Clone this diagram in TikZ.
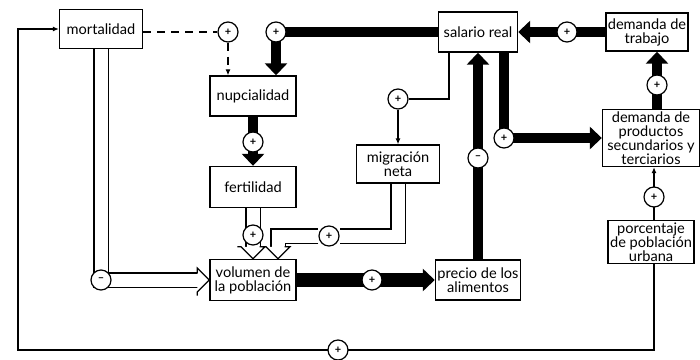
\documentclass[tikz,border=0pt]{standalone}
\usepackage{fontspec}
\setmainfont{Lato}
\usetikzlibrary{arrows.meta,positioning,calc,backgrounds,decorations.markings}
\newcommand{\boxfont}{\fontsize{7.3}{7}\selectfont}
\tikzset{
  box/.style={draw,line width=.7pt,fill=white,inner sep=1pt,align=center,
              font=\boxfont},
  sign/.style={circle,draw,line width=.6pt,fill=white,minimum size=10pt,
               inner sep=0pt,font=\fontsize{5.5}{5.5}\selectfont\bfseries},
  thin link/.style={draw,line width=.7pt},
  thin arrow/.style={thin link,-{Latex[length=3pt,width=2.6pt]}},
  dash link/.style={thin link,dashed,dash pattern=on 4pt off 3pt},
  thick arrow/.style={draw,line width=5pt,-{Triangle[width=11pt,length=6pt]}},
  hollow/.style={draw,line width=.6pt,double,double distance=6.5pt,
    shorten >=4.5pt,
    postaction={decorate,decoration={markings,mark=at position 1 with {
      \draw[line width=.6pt,fill=white] (-6pt,3.3pt) -- (-6pt,6pt) -- (0,0)
        -- (-6pt,-6pt) -- (-6pt,-3.3pt);}}}},
}
\begin{document}
\begin{tikzpicture}[x=.5pt,y=-.5pt]
  \useasboundingbox (0,0) rectangle (700,359);
  % boxes
  \node[box,minimum width=41.5pt,minimum height=19.5pt] (mort) at (101,29) {mortalidad};
  \node[box,minimum width=43pt,minimum height=20pt] (nup) at (253,96) {nupcialidad};
  \node[box,minimum width=43pt,minimum height=20.5pt] (fert) at (253,187) {fertilidad};
  \node[box,minimum width=41.5pt,minimum height=19pt] (mig) at (398,164) {migración\\neta};
  \node[box,minimum width=43pt,minimum height=20.5pt] (vol) at (253,280) {volumen de\\la población};
  \node[box,minimum width=40.5pt,minimum height=20pt] (precio) at (478,280) {precio de los\\alimentos};
  \node[box,minimum width=39.5pt,minimum height=20pt] (sal) at (478,32) {salario real};
  \node[box,minimum width=35pt,minimum height=19pt] (trab) at (647,32) {demanda de\\trabajo};
  \node[box,minimum width=48.5pt,minimum height=28.5pt] (prod) at (651,138)
    {demanda de\\productos\\secundarios y\\terciarios};
  \node[box,minimum width=39pt,minimum height=20.5pt] (urb) at (651,242)
    {porcentaje\\de población\\urbana};
  % signs
  \node[sign] (c1) at (228,32) {+};
  \node[sign] (c2) at (276,32) {+};
  \node[sign] (c3) at (253,142) {+};
  \node[sign] (c4) at (253,235) {+};
  \node[sign] (c5) at (329,236) {+};
  \node[sign] (c6) at (101,280) {--};
  \node[sign] (c7) at (338,350) {+};
  \node[sign] (c8) at (372,280) {+};
  \node[sign] (c9) at (504,138) {+};
  \node[sign] (c10) at (398,99) {+};
  \node[sign] (c11) at (567,32) {+};
  \node[sign] (c12) at (657,85) {+};
  \node[sign] (c13) at (654,197) {+};
  \node[sign] (cm) at (478,158) {--};
  \coordinate (loopL) at (18,350);
  \begin{scope}[on background layer]
    \draw[dash link] (mort.east |- c1) -- (c1);
    \draw[dash link,-{Latex[length=3pt,width=2.6pt]}] (c1) -- (c1 |- nup.north);
    \draw[thick arrow] (sal.west) -| (c2 |- nup.north);
    \draw[thick arrow] (nup) -- (fert);
    \draw[hollow] (fert) -- (vol);
    \draw[hollow] (mig.south) |- (c5) -| ([xshift=12.5pt]vol.north);
    \draw[hollow] (mort.south) |- (vol.west);
    \draw[thin arrow] (c13 |- urb.south) |- (loopL) |- (mort.west);
    \draw[thick arrow,line width=7pt] (vol) -- (precio);
    \draw[thick arrow] (precio) -- (sal);
    \draw[thick arrow] (c9 |- sal.south) |- (prod.west);
    \draw[thin link] ([xshift=-14.5pt]sal.south) |- (c10);
    \draw[thin arrow] (c10) -- (mig);
    \draw[thick arrow] (trab) -- (sal);
    \draw[thick arrow] (c12 |- prod.north) -- (c12 |- trab.south);
    \draw[thin arrow] (c13 |- urb.north) -- (c13 |- prod.south);
  \end{scope}
\end{tikzpicture}
\end{document}
